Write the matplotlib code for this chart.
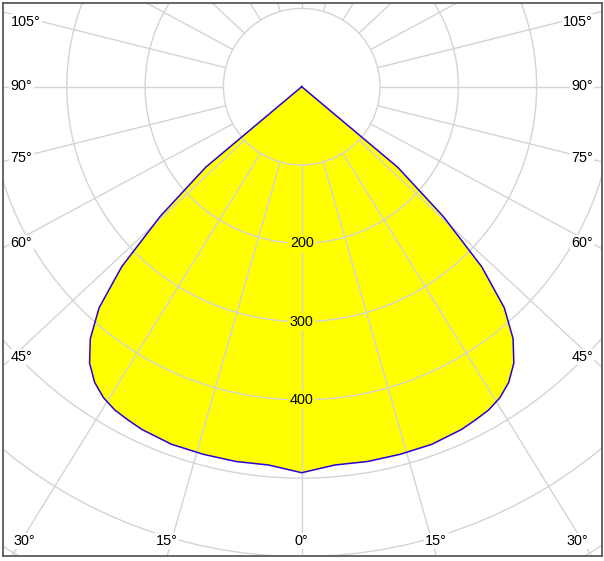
import matplotlib
matplotlib.use("Agg")
import matplotlib.pyplot as plt
from matplotlib.patches import Circle
import numpy as np

# Intensity curve (cd/klm) against angle from nadir, same on both sides.
angles = [0, 5, 10, 15, 20, 25, 27.5, 30, 32.5, 35, 37.5, 40, 42.5, 45, 47.5, 50, 55]
intensity = [493, 485, 486, 486, 486, 483, 480, 477, 471, 461, 445, 420, 383, 325, 245, 160, 0]

# Grid
ring_values = [100, 200, 300, 400, 500, 600, 700, 800]
ring_labels = [200, 300, 400]
spoke_angles = list(range(0, 360, 15))
side_labels = ["105°", "90°", "75°", "60°", "45°"]
bottom_labels = ["30°", "15°", "0°", "15°", "30°"]

# Layout (pixels of the 604 x 561 picture)
W, H = 604, 561
CX, CY = 301.7, 86.7       # pole of the diagram
PX = 0.783                 # pixels per cd
FRAME = (2.7, 3.3, 601.7, 555.7)
SPOKE_STRETCH = 1.07       # spokes are drawn slightly wider than the rings
side_y = [22.5, 86, 158.3, 243, 357]
bottom_x = [24, 166.7, 301.7, 436.3, 577.5]
bottom_y = 541

GRID = "#d4d4d4"
FONT = dict(family="Liberation Sans", fontsize=10.4, color="black")


def curve_xy(angles, values):
    """ Mirror the half curve to a closed outline (x right, y down). """
    a = np.radians(np.array(angles, dtype=float))
    r = np.array(values, dtype=float)
    x = np.concatenate([-r[::-1] * np.sin(a[::-1]), r[1:] * np.sin(a[1:])])
    y = np.concatenate([r[::-1] * np.cos(a[::-1]), r[1:] * np.cos(a[1:])])
    return x, y


def fig_pos(x, y):
    return x / W, 1 - y / H


fig = plt.figure(figsize=(W / 100, H / 100), dpi=100)
left, top, right, bottom = FRAME
ax = fig.add_axes([left / W, 1 - bottom / H, (right - left) / W, (bottom - top) / H])
ax.set_xlim((left - CX) / PX, (right - CX) / PX)
ax.set_ylim((bottom - CY) / PX, (top - CY) / PX)
ax.set_xticks([])
ax.set_yticks([])
for s in ax.spines.values():
    s.set_color("#5a5a5a")
    s.set_linewidth(1.3)

x, y = curve_xy(angles, intensity)
ax.fill(x, y, color="#ffff00", lw=0, zorder=1)

for r in ring_values:
    ax.add_patch(Circle((0, 0), r, fill=False, ec=GRID, lw=1.0, zorder=2))
for a in spoke_angles:
    d = np.array([SPOKE_STRETCH * np.sin(np.radians(a)), np.cos(np.radians(a))])
    d = d / np.linalg.norm(d)
    ax.plot([100 * d[0], 1500 * d[0]], [100 * d[1], 1500 * d[1]],
            color=GRID, lw=1.0, zorder=2, solid_capstyle="butt")

ax.plot(x, y, color="#2a00d8", lw=1.1, zorder=3)

for v in ring_labels:
    ax.text(0, v, str(v), ha="center", va="center", zorder=4,
            bbox=dict(facecolor="#ffff00", edgecolor="none", pad=1), **FONT)

box = dict(facecolor="white", edgecolor="none", pad=1)
for lab, yy in zip(side_labels, side_y):
    fig.text(*fig_pos(10.5, yy), lab, ha="left", va="center", bbox=box, **FONT)
    fig.text(*fig_pos(593, yy), lab, ha="right", va="center", bbox=box, **FONT)
for lab, xx in zip(bottom_labels, bottom_x):
    fig.text(*fig_pos(xx, bottom_y), lab, ha="center", va="center", bbox=box, **FONT)

fig.savefig("out.png", dpi=100)
